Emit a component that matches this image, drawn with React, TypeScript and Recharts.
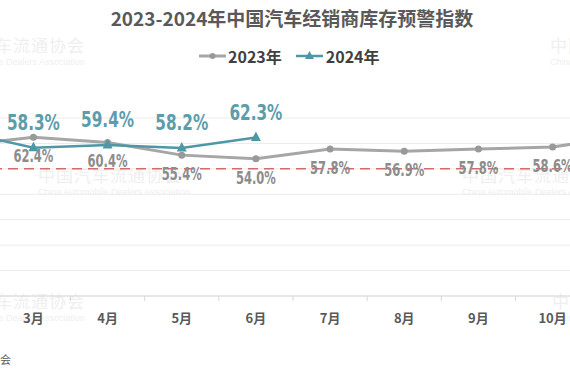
import React from 'react';
import { LineChart, Line, XAxis, YAxis, CartesianGrid, ReferenceLine, LabelList } from 'recharts';

const months = ['1月', '2月', '3月', '4月', '5月', '6月', '7月', '8月', '9月', '10月', '11月', '12月'];
const index2023 = [58.2, 59.2, 62.4, 60.4, 55.4, 54.0, 57.8, 56.9, 57.8, 58.6, 63.0, 57.6];
const index2024: (number | null)[] = [59.4, 64.8, 58.3, 59.4, 58.2, 62.3, null, null, null, null, null, null];
const yTicks = [0, 10, 20, 30, 40, 50, 60, 70];
const warningLine = 50;

const data = months.map((name, i) => ({
  m: i + 1,
  name,
  v2023: index2023[i],
  v2024: index2024[i],
}));

// month labels at whole values, small boundary ticks between them at .5
const axisTicks = months.flatMap((_, i) => (i < months.length - 1 ? [i + 1, i + 1.5] : [i + 1]));

const GRAY = '#a6a6a6';
const GRAY_TEXT = '#8c8c8c';
const TEAL = '#4e97a7';
const TEAL_TEXT = '#5b9dab';
const labelFont = "'DejaVu Sans', 'Liberation Sans', sans-serif";
const cjkFont = "'Noto Sans CJK SC', 'Liberation Sans', sans-serif";

const fmt = (v: any) => `${Number(v).toFixed(1)}%`;

function MonthTick(props: any) {
  const { x, y, payload } = props;
  const v = payload.value;
  if (Number.isInteger(v)) {
    return (
      <text x={x} y={y + 27} textAnchor="middle" fill="#595959" fontSize={13} fontWeight="bold" fontFamily={cjkFont}>
        {months[v - 1]}
      </text>
    );
  }
  return <line x1={x} x2={x} y1={y} y2={y + 5} stroke="#d9d9d9" />;
}

function Triangle(props: any) {
  const { cx, cy, index } = props;
  if (cx == null || cy == null || isNaN(cy)) return <g key={`t-${index}`} />;
  return (
    <polygon
      key={`t-${index}`}
      points={`${cx},${cy - 6} ${cx - 5},${cy + 3.5} ${cx + 5},${cy + 3.5}`}
      fill={TEAL}
    />
  );
}

function pointOf(props: any) {
  const vb = props.viewBox || {};
  return { x: vb.x ?? props.x, y: vb.y ?? props.y };
}

function TealLabel(props: any) {
  const { value } = props;
  const { x, y } = pointOf(props);
  if (value == null || x == null || y == null || isNaN(y)) return null;
  return (
    <text
      x={x}
      y={y - 18}
      textAnchor="middle"
      fill={TEAL_TEXT}
      fontSize={21}
      fontWeight="bold"
      fontFamily={labelFont}
      textLength={53}
      lengthAdjust="spacingAndGlyphs"
    >
      {fmt(value)}
    </text>
  );
}

function GrayLabel(props: any) {
  const { value } = props;
  const { x, y } = pointOf(props);
  if (value == null || x == null || y == null || isNaN(y)) return null;
  return (
    <text
      x={x}
      y={y + 25}
      textAnchor="middle"
      fill={GRAY_TEXT}
      fontSize={17}
      fontWeight="bold"
      fontFamily={labelFont}
      textLength={40}
      lengthAdjust="spacingAndGlyphs"
    >
      {fmt(value)}
    </text>
  );
}

function Watermark({ left, top, align }: { left: number; top: number; align?: 'right' }) {
  return (
    <div
      style={{
        position: 'absolute',
        left,
        top,
        width: 160,
        textAlign: align || 'left',
        color: '#efefef',
        lineHeight: 1,
        fontFamily: cjkFont,
        whiteSpace: 'nowrap',
      }}
    >
      <div style={{ fontSize: 17, letterSpacing: 1 }}>中国汽车流通协会</div>
      <div style={{ fontSize: 9, marginTop: 5, fontFamily: 'Liberation Sans, sans-serif' }}>
        China Automobile Dealers Association
      </div>
    </div>
  );
}

export default function App() {
  return (
    <div
      style={{
        position: 'relative',
        width: 570,
        height: 380,
        overflow: 'hidden',
        background: '#fff',
        fontFamily: cjkFont,
      }}
    >
      <style>{'body{margin:0}'}</style>

      <Watermark left={-75} top={36} align="right" />
      <Watermark left={550} top={36} />
      <Watermark left={38} top={166} />
      <Watermark left={462} top={166} />
      <Watermark left={-75} top={292} align="right" />
      <Watermark left={552} top={292} />

      <div
        style={{
          position: 'absolute',
          left: 0,
          top: 4,
          width: 584,
          textAlign: 'center',
          fontSize: 19,
          fontWeight: 'bold',
          color: '#595959',
          whiteSpace: 'nowrap',
        }}
      >
        2023-2024年中国汽车经销商库存预警指数
      </div>

      <div
        style={{
          position: 'absolute',
          left: 199,
          top: 44,
          display: 'flex',
          alignItems: 'center',
          fontSize: 16,
          fontWeight: 'bold',
          color: '#404040',
          whiteSpace: 'nowrap',
        }}
      >
        <svg width={27} height={10}>
          <line x1={0} x2={27} y1={5} y2={5} stroke={GRAY} strokeWidth={3} />
          <circle cx={13.5} cy={5} r={3} fill="#999" />
        </svg>
        <span style={{ marginLeft: 2 }}>2023年</span>
        <svg width={27} height={10} style={{ marginLeft: 14 }}>
          <line x1={0} x2={27} y1={5} y2={5} stroke={TEAL} strokeWidth={2.5} />
          <polygon points="13.5,0 9,8 18,8" fill={TEAL} />
        </svg>
        <span style={{ marginLeft: 3 }}>2024年</span>
      </div>

      <div style={{ position: 'absolute', left: -152, top: 0 }}>
        <LineChart width={890} height={380} data={data} margin={{ top: 118, right: 0, bottom: 0, left: 0 }}>
          <CartesianGrid vertical={false} stroke="#ebebeb" />
          <XAxis
            type="number"
            dataKey="m"
            domain={[0.5, 12.5]}
            ticks={axisTicks}
            interval={0}
            tick={<MonthTick />}
            tickLine={false}
            tickSize={0}
            tickMargin={0}
            axisLine={{ stroke: '#d9d9d9' }}
            height={84}
            allowDataOverflow
          />
          <YAxis hide domain={[0, 70]} ticks={yTicks} />
          <ReferenceLine y={warningLine} stroke="#d36b6b" strokeWidth={1.5} strokeDasharray="10 6" />
          <Line
            type="linear"
            dataKey="v2023"
            stroke={GRAY}
            strokeWidth={3}
            dot={{ r: 3.5, fill: '#999', stroke: 'none' }}
            isAnimationActive={false}
          >
            <LabelList dataKey="v2023" content={<GrayLabel />} />
          </Line>
          <Line
            type="linear"
            dataKey="v2024"
            stroke={TEAL}
            strokeWidth={2.5}
            dot={Triangle}
            isAnimationActive={false}
          >
            <LabelList dataKey="v2024" content={<TealLabel />} />
          </Line>
        </LineChart>
      </div>

      <div
        style={{
          position: 'absolute',
          right: 559,
          top: 351,
          whiteSpace: 'nowrap',
          fontSize: 11,
          color: '#595959',
        }}
      >
        数据来源：中国汽车流通协会
      </div>
    </div>
  );
}
